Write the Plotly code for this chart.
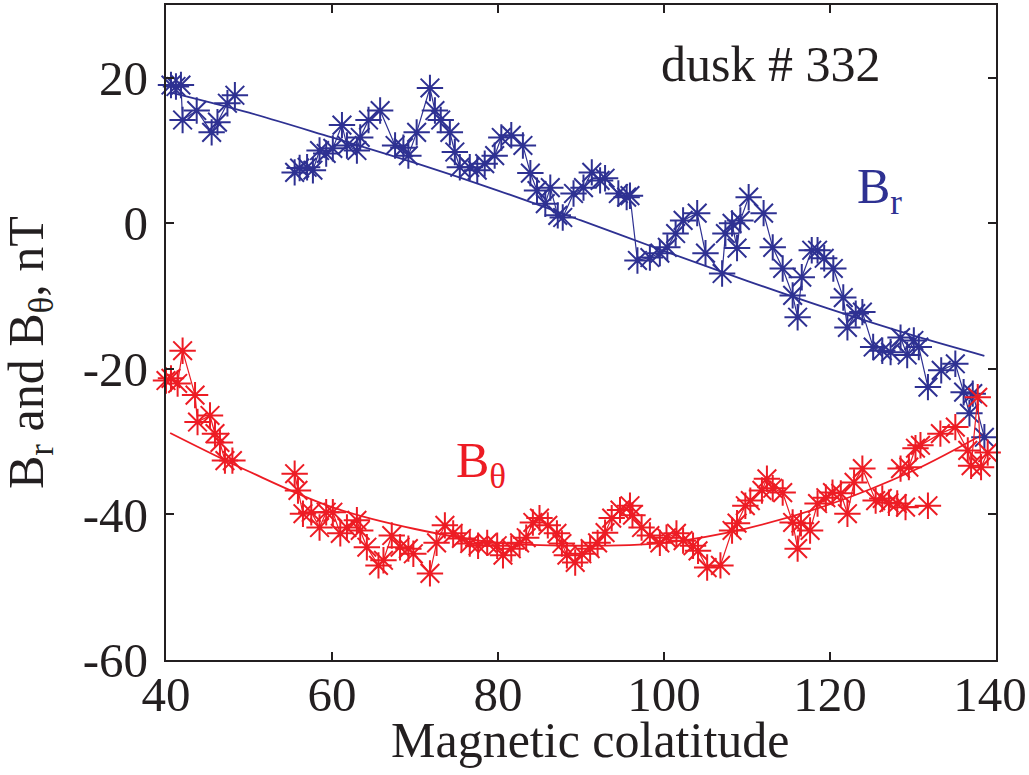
import plotly.graph_objects as go

# ---------------- data ----------------
br_x = [40.6, 41.2, 41.8, 42.0, 43.7, 45.5, 46.2, 47.4, 48.3, None,
        55.5, 56.1, 57.0, 57.7, 58.5, 59.3, 60.1, 61.2, 61.8, 63.0, 63.4, 64.4, 65.8,
        67.6, 68.6, 69.2, 70.2, 71.8, 72.4, 73.1, 74.2, 74.8, 75.4, 76.6, 77.5, 78.4,
        79.6, 80.4, 81.6, 83.0, 83.9, 84.7, 85.7, 86.3, 87.2, 87.8, 89.1, 90.3, 91.3,
        92.3, 92.9, 94.5, 95.5, 95.9, 96.8, 98.3, 99.5, 100.4, 101.4, 102.3, 104.0,
        105.0, 107.0, 107.4, 108.2, 108.8, 109.2, 110.2, 112.0, 113.1, 114.3, 115.5,
        116.1, 116.6, 117.8, 118.5, 119.3, 120.4, 121.6, 122.1, 123.1, 123.9, 125.2,
        126.3, 127.3, 128.5, 129.3, 130.1, 130.7, 131.8, 133.4, 135.1, 136.1, 136.8,
        137.2, 138.6]
br_y = [19.0, 18.8, 19.0, 14.2, 15.5, 12.5, 13.9, 16.5, 17.6, None,
        7.0, 7.6, 7.7, 7.3, 10.0, 9.6, 10.3, 13.5, 10.7, 10.0, 11.8, 14.2, 15.5,
        10.7, 10.4, 9.3, 12.5, 18.6, 15.5, 14.2, 12.5, 9.8, 7.7, 7.7, 7.3, 8.2,
        9.3, 11.8, 12.1, 10.7, 6.9, 4.5, 2.7, 4.9, 1.1, 0.8, 4.1, 4.9, 7.0,
        5.9, 6.2, 4.1, 3.6, 3.8, -5.1, -4.7, -4.1, -3.3, -1.4, 0.4, 1.4,
        -4.1, -6.9, -1.4, 0.0, -3.4, 0.4, 3.6, 1.4, -3.3, -6.2, -9.9,
        -12.9, -7.4, -3.7, -3.7, -4.8, -6.2, -10.2, -14.3, -12.4, -12.2, -17.0,
        -17.5, -17.7, -15.7, -18.1, -16.1, -17.0, -22.5, -20.2, -19.3, -23.2, -26.1,
        -23.4, -29.4]

bt_x = [40.0, 40.6, 41.4, 42.0, 43.5, 43.8, 45.3, 45.9, 46.5, 47.1, 48.0, None,
        55.5, 55.9, 56.5, 57.5, 58.5, 59.3, 60.1, 61.0, 61.8, 63.0, 63.4, 64.2,
        65.6, 66.2, 67.2, 68.2, 69.2, 69.8, 71.8, 72.6, 73.6, 74.6, 75.6, 76.6,
        77.6, 78.7, 79.9, 80.6, 81.6, 82.6, 83.4, 84.2, 85.0, 86.0, 87.1, 87.7,
        88.3, 89.3, 90.1, 91.1, 92.0, 92.9, 93.7, 94.7, 95.9, 96.2, 97.3, 98.3,
        99.5, 100.3, 101.5, 102.3, 103.5, 104.1, 105.2, 106.8, 108.2, 108.8,
        109.8, 110.4, 111.8, 112.4, 113.1, 114.3, 115.5, 116.1, 116.5, 117.6,
        118.5, 119.5, 120.3, 121.3, 122.1, 122.9, 123.9, 125.5, 126.3, 127.1,
        128.1, 129.1, 131.8, None, 128.5, 129.5, 130.3, 130.9, 133.3, 135.1,
        136.6, 137.0, 137.8, 138.2, 139.0]
bt_y = [-21.6, -21.3, -22.0, -17.5, -23.6, -27.3, -26.4, -28.9, -30.1, -32.6, -32.6, None,
        -34.4, -36.7, -39.9, -39.7, -41.8, -39.7, -39.7, -42.6, -41.8, -40.8, -42.2, -44.5,
        -47.0, -46.3, -42.9, -44.5, -44.7, -45.4, -48.1, -43.9, -41.5, -42.6, -43.3, -44.0,
        -44.3, -43.9, -44.3, -45.6, -44.7, -43.9, -43.2, -41.1, -40.5, -41.5, -42.6, -44.0,
        -45.6, -46.6, -45.4, -44.7, -43.9, -42.5, -40.5, -39.4, -38.8, -40.1, -41.8, -42.9,
        -43.9, -43.2, -42.6, -43.6, -44.3, -45.0, -47.3, -47.0, -42.2, -41.2,
        -38.8, -38.1, -36.7, -35.1, -36.4, -37.0, -41.1, -44.7, -41.2, -42.2,
        -38.5, -37.7, -37.0, -37.1, -39.9, -35.6, -33.7, -38.1, -37.8, -38.4,
        -38.5, -39.0, -38.8, None, -33.7, -33.5, -30.9, -30.5, -28.9, -28.0,
        -31.2, -33.3, -23.9, -33.5, -31.5]

# fitted curves
br_fit_x = [40.5, 50, 60, 70, 80, 90, 100, 110, 120, 130, 138.6]
br_fit_y = [18.0, 15.2, 11.8, 8.3, 4.5, 0.4, -3.8, -7.9, -11.8, -15.4, -18.2]
bt_fit_x = [40.5, 50, 60, 70, 80, 90, 100, 110, 120, 130, 138.7]
bt_fit_y = [-28.8, -34.1, -39.0, -42.0, -43.9, -44.3, -43.9, -41.9, -38.6, -34.0, -28.8]

x_ticks = [40, 60, 80, 100, 120, 140]
x_ticktext = ["40", "60", "80", "100", "120", "140\u00a0"]
y_ticks = [-60, -40, -20, 0, 20]
y_ticktext = ["-60", "-40", "-20", "0", "20"]

BLUE = "#2E3192"
RED = "#ED1C24"
INK = "#231F20"
FONT = "Liberation Serif"

fig = go.Figure()

fig.add_trace(go.Scatter(x=br_fit_x, y=br_fit_y, mode="lines",
                         line=dict(color=BLUE, width=1.8, shape="spline"),
                         showlegend=False, hoverinfo="skip"))
fig.add_trace(go.Scatter(x=bt_fit_x, y=bt_fit_y, mode="lines",
                         line=dict(color=RED, width=1.8, shape="spline"),
                         showlegend=False, hoverinfo="skip"))
fig.add_trace(go.Scatter(x=br_x, y=br_y, mode="lines+markers",
                         line=dict(color=BLUE, width=1.2),
                         marker=dict(symbol="asterisk-open", size=22,
                                     line=dict(color=BLUE, width=2)),
                         cliponaxis=False, connectgaps=False, showlegend=False))
fig.add_trace(go.Scatter(x=bt_x, y=bt_y, mode="lines+markers",
                         line=dict(color=RED, width=1.2),
                         marker=dict(symbol="asterisk-open", size=22,
                                     line=dict(color=RED, width=2)),
                         cliponaxis=False, connectgaps=False, showlegend=False))

axis_common = dict(showline=True, linecolor=INK, linewidth=2.2, mirror="ticks",
                   ticks="inside", ticklen=8, tickwidth=1.5, tickcolor=INK,
                   showgrid=False, zeroline=False, ticklabeloverflow="allow",
                   automargin=False,
                   tickfont=dict(family=FONT, size=49, color=INK))

fig.update_xaxes(range=[40, 140], tickvals=x_ticks, ticktext=x_ticktext,
                 ticklabelstandoff=-10, **axis_common)
fig.update_yaxes(range=[-60, 30], tickvals=y_ticks, ticktext=y_ticktext,
                 ticklabelstandoff=6, **axis_common)

fig.add_annotation(text="Magnetic colatitude", xref="paper", yref="paper",
                   x=0.511, y=-0.122, xanchor="center", yanchor="middle",
                   showarrow=False, font=dict(family=FONT, size=50, color=INK))
fig.add_annotation(text="B<sub>r</sub> and B<sub>θ</sub>, nT", xref="paper", yref="paper",
                   x=-0.164, y=0.47, xanchor="center", yanchor="middle", textangle=-90,
                   showarrow=False, font=dict(family=FONT, size=50, color=INK))
fig.add_annotation(text="dusk # 332", x=112.8, y=21.9, xanchor="center", yanchor="middle",
                   showarrow=False, font=dict(family=FONT, size=50, color=INK))
fig.add_annotation(text="B<sub>r</sub>", x=126.0, y=4.6, xanchor="center", yanchor="middle",
                   showarrow=False, font=dict(family=FONT, size=50, color=BLUE))
fig.add_annotation(text="B<sub>θ</sub>", x=78.0, y=-33.0, xanchor="center", yanchor="middle",
                   showarrow=False, font=dict(family=FONT, size=50, color=RED))

fig.update_layout(width=1029, height=775,
                  margin=dict(l=166, r=33, t=5, b=115, autoexpand=False),
                  paper_bgcolor="white", plot_bgcolor="white")

fig.write_html("out.html")
